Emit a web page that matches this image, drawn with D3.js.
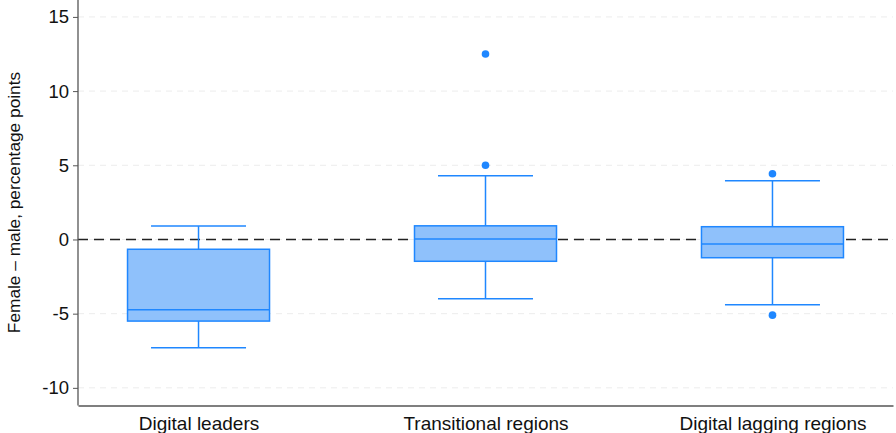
<!DOCTYPE html>
<html>
<head>
<meta charset="utf-8">
<script src="https://cdn.jsdelivr.net/npm/d3@7"></script>
<style>
body { margin: 0; background: #fff; }
text { font-family: "Liberation Sans", Arial, sans-serif; }
</style>
</head>
<body>
<svg id="chart"></svg>
<script>
var categories = ["Digital leaders", "Transitional regions", "Digital lagging regions"]
var whiskerLow = [-7.3, -4.0, -4.4]
var q1 = [-5.5, -1.47, -1.23]
var median = [-4.73, 0.03, -0.3]
var q3 = [-0.66, 0.92, 0.86]
var whiskerHigh = [0.9, 4.3, 3.96]
var outliers = [[], [12.5, 5.0], [4.43, -5.1]]
var yTicks = [-10, -5, 0, 5, 10, 15]

var screen = {width: 896, height: 433}
var margins = {left: 78, right: 3, top: 0, bottom: 27.5}
var graph = {
    width: screen.width - margins.left - margins.right,
    height: screen.height - margins.top - margins.bottom
}

var svg = d3.select("#chart")
    .attr("width", screen.width)
    .attr("height", screen.height)

var xScale = d3.scalePoint()
    .domain(categories)
    .range([0, graph.width])
    .padding(0.42)

var yScale = d3.scaleLinear()
    .domain([-11.19, 16.14])
    .range([graph.height, 0])

var target = svg.append("g")
    .attr("transform", "translate(" + margins.left + "," + margins.top + ")")

// light dashed grid
target.append("g")
    .selectAll("line")
    .data(yTicks)
    .enter()
    .append("line")
    .attr("x1", 0)
    .attr("x2", graph.width)
    .attr("y1", function (d) { return yScale(d) })
    .attr("y2", function (d) { return yScale(d) })
    .attr("stroke", "#ececec")
    .attr("stroke-width", 1)
    .attr("stroke-dasharray", "6,5")

// zero reference
target.append("line")
    .attr("x1", 0)
    .attr("x2", graph.width)
    .attr("y1", yScale(0))
    .attr("y2", yScale(0))
    .attr("stroke", "#222")
    .attr("stroke-width", 1.5)
    .attr("stroke-dasharray", "10,6")

var boxes = categories.map(function (c, i) {
    return {cat: c, lo: whiskerLow[i], q1: q1[i], med: median[i], q3: q3[i], hi: whiskerHigh[i], out: outliers[i]}
})

var boxW = 142
var capW = 95
var stroke = "#1f87ff"

var g = target.selectAll("g.box")
    .data(boxes)
    .enter()
    .append("g")
    .classed("box", true)
    .attr("transform", function (d) { return "translate(" + xScale(d.cat) + ",0)" })

g.append("line")
    .attr("x1", 0).attr("x2", 0)
    .attr("y1", function (d) { return yScale(d.hi) })
    .attr("y2", function (d) { return yScale(d.q3) })
    .attr("stroke", stroke).attr("stroke-width", 1.5)

g.append("line")
    .attr("x1", 0).attr("x2", 0)
    .attr("y1", function (d) { return yScale(d.q1) })
    .attr("y2", function (d) { return yScale(d.lo) })
    .attr("stroke", stroke).attr("stroke-width", 1.5)

g.append("line")
    .attr("x1", -capW / 2).attr("x2", capW / 2)
    .attr("y1", function (d) { return yScale(d.hi) })
    .attr("y2", function (d) { return yScale(d.hi) })
    .attr("stroke", stroke).attr("stroke-width", 1.5)

g.append("line")
    .attr("x1", -capW / 2).attr("x2", capW / 2)
    .attr("y1", function (d) { return yScale(d.lo) })
    .attr("y2", function (d) { return yScale(d.lo) })
    .attr("stroke", stroke).attr("stroke-width", 1.5)

g.append("rect")
    .attr("x", -boxW / 2)
    .attr("width", boxW)
    .attr("y", function (d) { return yScale(d.q3) })
    .attr("height", function (d) { return yScale(d.q1) - yScale(d.q3) })
    .attr("fill", "#8fc1fb")
    .attr("stroke", stroke)
    .attr("stroke-width", 1.5)

g.append("line")
    .attr("x1", -boxW / 2).attr("x2", boxW / 2)
    .attr("y1", function (d) { return yScale(d.med) })
    .attr("y2", function (d) { return yScale(d.med) })
    .attr("stroke", stroke).attr("stroke-width", 1.5)

g.selectAll("circle")
    .data(function (d) { return d.out })
    .enter()
    .append("circle")
    .attr("cx", 0)
    .attr("cy", function (d) { return yScale(d) })
    .attr("r", 3.8)
    .attr("fill", stroke)

// axes
var yAxis = d3.axisLeft(yScale).tickValues(yTicks).tickSize(5).tickPadding(4)
var xAxis = d3.axisBottom(xScale).tickSize(0).tickPadding(11)

var ya = target.append("g").call(yAxis)
ya.select(".domain").attr("stroke", "#555").attr("stroke-width", 1.3).attr("d", "M0," + graph.height + "V0")
ya.selectAll(".tick line").attr("stroke", "#555")
ya.selectAll(".tick text").attr("font-size", 18.5).attr("fill", "#111")
    .attr("font-family", "Liberation Sans, Arial, sans-serif")
    .text(function (d) { return d < 0 ? "-" + Math.abs(d) : d })

var xa = target.append("g")
    .attr("transform", "translate(0," + graph.height + ")")
    .call(xAxis)
xa.select(".domain").attr("stroke", "#555").attr("stroke-width", 1.3)
xa.selectAll(".tick text").attr("font-size", 19).attr("fill", "#111")
    .attr("font-family", "Liberation Sans, Arial, sans-serif")

svg.append("text")
    .text("Female \u2013 male, percentage points")
    .attr("text-anchor", "middle")
    .attr("font-size", 17.3)
    .attr("fill", "#111")
    .attr("transform", "translate(20,202.5) rotate(270)")
</script>
</body>
</html>
